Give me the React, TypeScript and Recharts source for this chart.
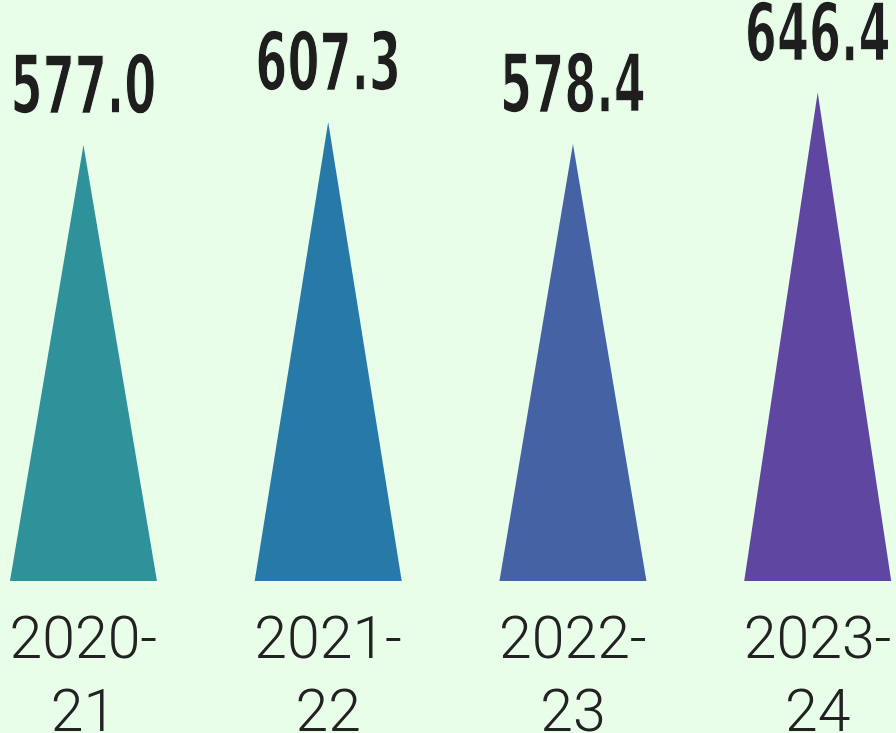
import { BarChart, Bar, XAxis, YAxis, Cell, LabelList } from "recharts";

// Yearly totals, one triangle per fiscal year
const YEARS = ["2020-21", "2021-22", "2022-23", "2023-24"];
const TOTALS = [577.0, 607.3, 578.4, 646.4];
const COLORS = ["#2f929a", "#2779a8", "#4462a4", "#5f46a0"];

const BG = "#e8fee9";

const data = YEARS.map((year, i) => ({ year, total: TOTALS[i] }));

function Triangle(props: any) {
  const { x, y, width, height, fill } = props;
  if (!height || height <= 0) return null;
  const d = `M${x},${y + height} L${x + width / 2},${y} L${x + width},${y + height} Z`;
  return <path d={d} fill={fill} />;
}

function ValueLabel(props: any) {
  const { x, y, width, value } = props;
  const cx = x + width / 2;
  return (
    <text
      transform={`translate(${cx},${y - 32}) scale(0.64,1)`}
      textAnchor="middle"
      fontFamily="'DejaVu Sans Condensed', 'Liberation Sans Narrow', sans-serif"
      fontWeight={700}
      fontSize={80}
      fill="#1e1e1e"
      stroke={BG}
      strokeWidth={1.5}
      paintOrder="normal"
    >
      {Number(value).toFixed(1)}
    </text>
  );
}

function YearTick(props: any) {
  const { x, y, payload } = props;
  const [first, second] = String(payload.value).split("-");
  return (
    <g transform={`translate(${x},${y})`}>
      <text
        textAnchor="middle"
        fontFamily="Roboto, sans-serif"
        fontWeight={300}
        fontSize={59}
        fill="#222"
      >
        <tspan x={0} dy={69}>{first}-</tspan>
        <tspan x={0} dy={73}>{second}</tspan>
      </text>
    </g>
  );
}

export default function App() {
  return (
    <div
      style={{
        position: "fixed",
        left: 0,
        top: 0,
        width: 896,
        height: 733,
        overflow: "hidden",
        background: BG,
      }}
    >
      <div style={{ marginLeft: -39 }}>
        <BarChart
          width={979}
          height={733}
          data={data}
          margin={{ top: 52, right: 0, bottom: 0, left: 0 }}
          barCategoryGap="20%"
        >
          <XAxis
            dataKey="year"
            axisLine={false}
            tickLine={false}
            height={152}
            interval={0}
            tick={<YearTick />}
          />
          <YAxis hide domain={[0, 700]} />
          <Bar dataKey="total" shape={<Triangle />} isAnimationActive={false}>
            {data.map((d, i) => (
              <Cell key={d.year} fill={COLORS[i]} />
            ))}
            <LabelList dataKey="total" content={<ValueLabel />} />
          </Bar>
        </BarChart>
      </div>
    </div>
  );
}
